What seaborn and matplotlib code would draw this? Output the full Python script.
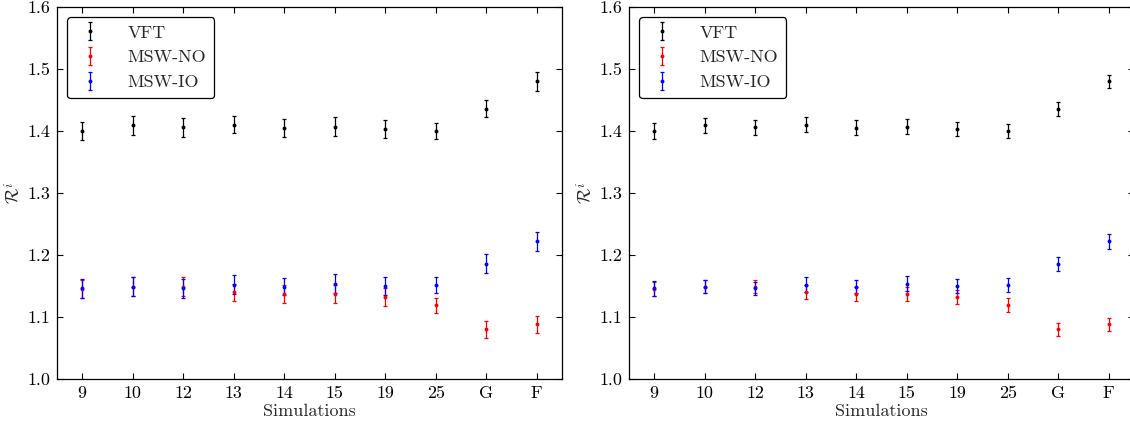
import matplotlib
matplotlib.use("Agg")
import matplotlib.pyplot as plt
import seaborn as sns
import numpy as np

# ---- data ----
simulations = ["9", "10", "12", "13", "14", "15", "19", "25", "G", "F"]

vft = [1.400, 1.409, 1.406, 1.410, 1.405, 1.407, 1.403, 1.400, 1.436, 1.480]
msw_no = [1.145, 1.149, 1.149, 1.140, 1.137, 1.137, 1.132, 1.119, 1.080, 1.088]
msw_io = [1.146, 1.149, 1.146, 1.152, 1.149, 1.154, 1.150, 1.152, 1.186, 1.222]

# left panel uncertainties
vft_err_l = [0.015, 0.015, 0.015, 0.014, 0.014, 0.015, 0.014, 0.013, 0.014, 0.015]
no_err_l = [0.015, 0.015, 0.015, 0.014, 0.014, 0.015, 0.014, 0.012, 0.014, 0.014]
io_err_l = [0.015, 0.015, 0.015, 0.015, 0.014, 0.016, 0.015, 0.013, 0.015, 0.015]
# right panel uncertainties
vft_err_r = [0.013, 0.012, 0.012, 0.012, 0.012, 0.012, 0.011, 0.011, 0.011, 0.011]
no_err_r = [0.011, 0.011, 0.011, 0.011, 0.011, 0.011, 0.011, 0.011, 0.011, 0.011]
io_err_r = [0.012, 0.011, 0.011, 0.012, 0.011, 0.012, 0.012, 0.011, 0.011, 0.012]

labels = ["VFT", "MSW-NO", "MSW-IO"]
colors = ["black", "red", "blue"]
yticks = [1.0, 1.1, 1.2, 1.3, 1.4, 1.5, 1.6]

sns.set_theme(style="ticks")
plt.rcParams["font.family"] = ["cmr10", "DejaVu Serif"]
plt.rcParams["mathtext.fontset"] = "cm"
plt.rcParams["axes.formatter.use_mathtext"] = True

fig = plt.figure(figsize=(11.3, 4.28), dpi=100)
W, H = 1130, 428
ax1 = fig.add_axes([57 / W, 49 / H, 505 / W, 372 / H])
ax2 = fig.add_axes([629 / W, 49 / H, 505 / W, 372 / H])

x = np.arange(len(simulations))
panels = [
    (ax1, [vft_err_l, no_err_l, io_err_l]),
    (ax2, [vft_err_r, no_err_r, io_err_r]),
]
FS = 13
for ax, errs in panels:
    for vals, err, lab, col in zip([vft, msw_no, msw_io], errs, labels, colors):
        ax.errorbar(x, vals, yerr=err, fmt="o", ms=1.8, color=col, ecolor=col,
                    elinewidth=0.9, capsize=1.6, capthick=0.9, label=lab)
    ax.set_xlim(-0.5, len(simulations) - 0.5)
    ax.set_ylim(1.0, 1.6)
    ax.set_xticks(x)
    ax.set_xticklabels(simulations)
    ax.set_yticks(yticks)
    ax.set_yticklabels([f"{v:.1f}" for v in yticks])
    ax.tick_params(direction="in", top=True, right=True, length=4, width=0.8,
                   labelsize=FS, colors="black", pad=5)
    for sp in ax.spines.values():
        sp.set_color("black")
        sp.set_linewidth(0.9)
    ax.set_xlabel("Simulations", fontsize=FS, labelpad=2)
    ax.set_ylabel(r"$\mathcal{R}^i$", fontsize=13)
    ax.yaxis.set_label_coords(-0.066, 0.5)
    leg = ax.legend(loc="upper left", fontsize=FS, frameon=True, fancybox=True,
                    edgecolor="black", framealpha=1, borderaxespad=0.55,
                    handletextpad=1.2, labelspacing=0.5, borderpad=0.45,
                    handlelength=1.7)
    leg.get_frame().set_linewidth(0.9)

fig.savefig("out.png", dpi=100)
